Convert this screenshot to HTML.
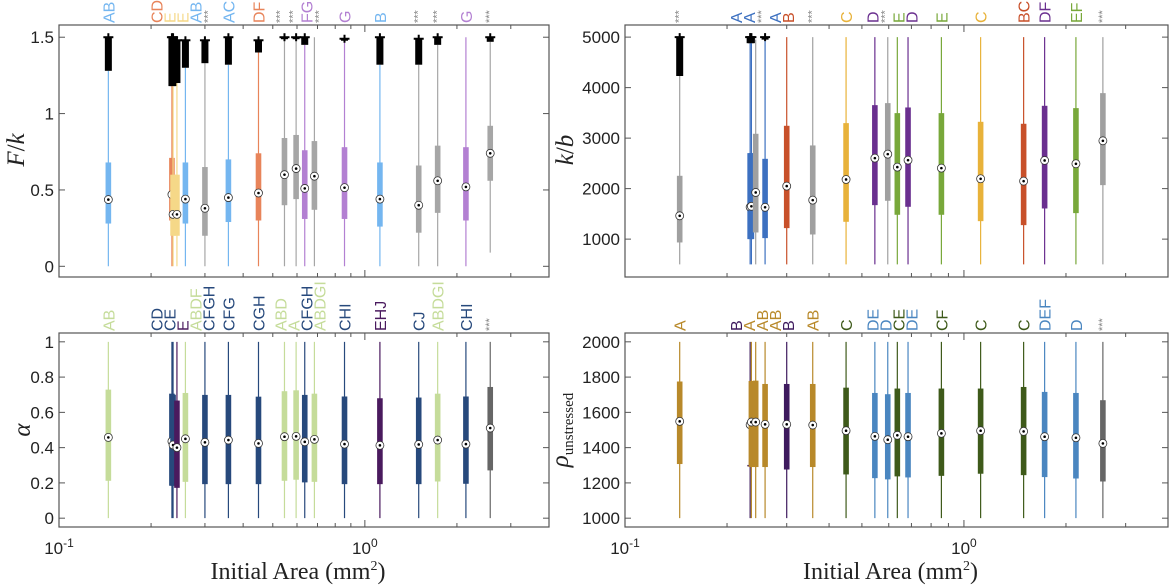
<!DOCTYPE html>
<html><head><meta charset="utf-8"><style>
html,body{margin:0;padding:0;background:#fff;}
svg{display:block;font-family:"Liberation Sans",sans-serif;}
.tick{font-size:17px;fill:#222;}
.serif{font-family:"Liberation Serif",serif;fill:#222;}
</style></head><body>
<svg id="chart" width="1176" height="586" viewBox="0 0 1176 586" xmlns="http://www.w3.org/2000/svg"></svg>
<script>
const areas=[0.145,0.234,0.236,0.243,0.259,0.300,0.358,0.449,0.546,0.596,0.636,0.684,0.858,1.12,1.50,1.73,2.14,2.57];

const fkQ1=[0.28,0.30,0.20,0.20,0.28,0.20,0.29,0.30,0.40,0.44,0.31,0.37,0.31,0.26,0.22,0.35,0.30,0.56];
const fkQ3=[0.68,0.71,0.60,0.60,0.68,0.65,0.70,0.74,0.84,0.86,0.76,0.82,0.78,0.68,0.66,0.79,0.78,0.92];
const fkMed=[0.437,0.47,0.34,0.34,0.44,0.38,0.45,0.48,0.60,0.64,0.51,0.59,0.515,0.44,0.40,0.56,0.52,0.74];
const fkLo=[0,0,0,0,0,0,0,0,0,0,0,0,0,0,0,0,0,0.09];
const fkHi=[1.28,1.18,1.18,1.2,1.3,1.33,1.32,1.4,1.5,1.5,1.45,1.5,1.49,1.32,1.32,1.45,1.5,1.47];
const fkOutLo=[1.28,1.18,1.18,1.2,1.3,1.33,1.32,1.4,1.5,1.5,1.45,null,1.49,1.32,1.32,1.45,null,1.47];
const fkOutHi=[1.5,1.5,1.5,1.48,1.48,1.48,1.5,1.48,1.5,1.5,1.5,null,1.49,1.5,1.49,1.5,null,1.5];
const fkLabels=["AB","CD","E","E","AB","***","AC","DF","***","***","FG","***","G","B","***","***","G","***"];
const fkColors=["#74b6f0","#e8845a","#f5d888","#f5d888","#74b6f0","#a6a6a6","#74b6f0","#e8845a","#a6a6a6","#a6a6a6","#b380d2","#a6a6a6","#b380d2","#74b6f0","#a6a6a6","#a6a6a6","#b380d2","#a6a6a6"];

const kbQ1=[934,1000,1000,1132,1020,1218,1092,1343,1673,1759,1482,1640,1482,1356,1277,1607,1515,2069];
const kbQ3=[2254,2703,2703,3086,2590,3244,2855,3297,3653,3693,3495,3607,3495,3323,3284,3640,3594,3891];
const kbMed=[1462,1634,1650,1924,1630,2050,1772,2181,2604,2683,2426,2564,2406,2195,2148,2558,2492,2947];
const kbLo=[500,500,500,500,500,500,500,500,500,500,500,500,500,500,500,500,500,500];
const kbHi=[4230,4880,4880,4950,4950,5000,5000,5000,5000,5000,5000,5000,5000,5000,5000,5000,5000,5000];
const kbOutLo=[4230,4880,4880,null,4950,null,null,null,null,null,null,null,null,null,null,null,null,null];
const kbOutHi=[5000,5000,5000,null,5000,null,null,null,null,null,null,null,null,null,null,null,null,null];
const kbLabels=["***","A","A","***","A","B","***","C","D","***","E","D","E","C","BC","DF","EF","***"];
const kbColors=["#a0a0a0","#3c70c0","#3c70c0","#a0a0a0","#3c70c0","#c8502a","#a0a0a0","#e8b23a","#6a2f8f","#a0a0a0","#78a83a","#6a2f8f","#78a83a","#e8b23a","#c8502a","#6a2f8f","#78a83a","#a0a0a0"];

const alQ1=[0.212,0.184,0.184,0.172,0.206,0.193,0.193,0.193,0.212,0.218,0.203,0.206,0.193,0.193,0.193,0.208,0.195,0.271];
const alQ3=[0.729,0.706,0.70,0.667,0.71,0.699,0.699,0.689,0.72,0.725,0.699,0.706,0.69,0.68,0.684,0.706,0.69,0.744];
const alMed=[0.458,0.436,0.415,0.40,0.45,0.43,0.443,0.424,0.462,0.464,0.433,0.447,0.42,0.413,0.418,0.443,0.42,0.511];
const alLo=[0,0,0,0,0,0,0,0,0,0,0,0,0,0,0,0,0,0];
const alHi=[1,1,1,1,1,1,1,1,1,1,1,1,1,1,1,1,1,1];
const alLabels=["AB","CD","CE","E","ABDF","CFGH","CFG","CGH","ABD","A","CFGH","ABDGI","CHI","EHJ","CJ","ABDGI","CHI","***"];
const alColors=["#c5dc9a","#27497c","#27497c","#4a1a5e","#c5dc9a","#27497c","#27497c","#27497c","#c5dc9a","#c5dc9a","#27497c","#c5dc9a","#27497c","#4a1a5e","#27497c","#c5dc9a","#27497c","#666666"];

const rhoQ1=[1307,1295,1290,1290,1290,1276,1290,1248,1227,1220,1237,1231,1240,1252,1244,1233,1225,1208];
const rhoQ3=[1775,1302,1778,1780,1761,1761,1761,1740,1710,1703,1735,1710,1735,1735,1744,1716,1710,1669];
const rhoMed=[1549,1530,1545,1545,1532,1532,1528,1496,1464,1445,1470,1462,1481,1496,1492,1462,1456,1424];
const rhoLo=[1000,1000,1000,1000,1000,1000,1000,1000,1000,1000,1000,1000,1000,1000,1000,1000,1000,1000];
const rhoHi=[2000,2000,2000,2000,2000,2000,2000,2000,2000,2000,2000,2000,2000,2000,2000,2000,2000,2000];
const rhoLabels=["A","B","A","AB","AB","B","AB","C","DE","D","CE","DE","CF","C","C","DEF","D","***"];
const rhoColors=["#b8892a","#3e1a5e","#b8892a","#b8892a","#b8892a","#3e1a5e","#b8892a","#3e5a1a","#4a86c0","#4a86c0","#3e5a1a","#4a86c0","#3e5a1a","#3e5a1a","#3e5a1a","#4a86c0","#4a86c0","#666666"];

const fkTicks=[0,0.5,1,1.5], fkTickLabels=["0","0.5","1","1.5"];
const kbTicks=[1000,2000,3000,4000,5000];
const alTicks=[0,0.2,0.4,0.6,0.8,1], alTickLabels=["0","0.2","0.4","0.6","0.8","1"];
const rhoTicks=[1000,1200,1400,1600,1800,2000];

const NS="http://www.w3.org/2000/svg";
const svg=document.getElementById('chart');
function mk(tag,attrs,parent){const e=document.createElementNS(NS,tag);for(const k in attrs)e.setAttribute(k,attrs[k]);(parent||svg).appendChild(e);return e;}

function panel(p){
  const g=mk('g',{});
  
  
  const xs=a=>p.L+(Math.log10(a)+1)/Math.log10(40)*(p.R-p.L);
  const ys=v=>p.T+(p.d1-v)/(p.d1-p.d0)*(p.B-p.T);
  const fr=mk('rect',{x:p.L,y:p.T,width:p.R-p.L,height:p.B-p.T,fill:'none',stroke:'#555','stroke-width':1.2},g);
  
  
  for(let dec=-1;dec<=0;dec++){for(let m=1;m<=9;m++){const a=m*Math.pow(10,dec);if(a>4)continue;const x=xs(a);const len=m===1?7:4;
    mk('line',{x1:x,x2:x,y1:p.B,y2:p.B-len,stroke:'#555'},g);mk('line',{x1:x,x2:x,y1:p.T,y2:p.T+len,stroke:'#555'},g);}}
  p.ticks.forEach((t,i)=>{const y=ys(t);
    mk('line',{x1:p.L,x2:p.L+6,y1:y,y2:y,stroke:'#555'},g);mk('line',{x1:p.R,x2:p.R-6,y1:y,y2:y,stroke:'#555'},g);
    const tl=mk('text',{x:p.L-5,y:y+6,'text-anchor':'end',class:'tick'},g);tl.textContent=p.tickLabels[i];
    
    
  });
  if(p.xlabels){
    [[0.1,"-1"],[1,"0"]].forEach(([a,e])=>{const t=mk('text',{x:xs(a),y:554,'text-anchor':'middle',class:'tick'},g);
      
      
      t.appendChild(document.createTextNode('10'));const s=mk('tspan',{dy:-7,'font-size':12},t);s.textContent=e;});
    const xt=mk('text',{x:(p.L+p.R)/2-6,y:579,'text-anchor':'middle',class:'serif','font-size':24},g);
    
    
    xt.appendChild(document.createTextNode('Initial Area (mm'));const s2=mk('tspan',{dy:-9,'font-size':14},xt);s2.textContent='2';
    const s3=mk('tspan',{dy:9},xt);s3.textContent=')';
  }
  areas.forEach((a,i)=>{const x=xs(a),c=p.colors[i];
    const bg=mk('g',{},g);
    
    
    mk('line',{x1:x,x2:x,y1:ys(p.lo[i]),y2:ys(p.hi[i]),stroke:c,'stroke-width':1.2},bg);
    mk('rect',{x:x-2.8,y:ys(p.q3[i]),width:5.6,height:Math.max(1.5,ys(p.q1[i])-ys(p.q3[i])),fill:c},bg);
    if(p.outLo&&p.outLo[i]!=null){const y1=ys(p.outHi[i]),y2=ys(p.outLo[i]);
      mk('rect',{x:x-3.5,y:y1,width:7,height:Math.max(2,y2-y1),fill:'#000'},bg);
      mk('line',{x1:x-5,x2:x+5,y1:y1,y2:y1,stroke:'#000','stroke-width':2},bg);
      mk('line',{x1:x,x2:x,y1:y1-4,y2:y1+4,stroke:'#000','stroke-width':2},bg);}
    const ym=ys(p.med[i]);
    mk('circle',{cx:x,cy:ym,r:4,fill:'#fff',stroke:'#333','stroke-width':0.8},bg);
    mk('circle',{cx:x,cy:ym,r:1.3,fill:'#000'},bg);
  });
  const lx=areas.map(a=>xs(a));
  for(let it=0;it<200;it++){for(let i=0;i<lx.length-1;i++){const d=lx[i+1]-lx[i];if(d<13){const s=(13-d)/2;lx[i]-=s;lx[i+1]+=s;}}}
  p.labels.forEach((l,i)=>{const star=l==='***';
    const t=mk('text',{x:0,y:0,transform:`translate(${lx[i]+(star?3:6)},${p.T-2}) rotate(-90)`,fill:star?'#888':p.colors[i],'font-size':star?11:16},g);
    t.textContent=l;
    
    
  });
}

panel({name:'fk-panel',L:59,R:549,T:25,B:277,d0:-0.07,d1:1.58,ticks:fkTicks,tickLabels:fkTickLabels,q1:fkQ1,q3:fkQ3,med:fkMed,lo:fkLo,hi:fkHi,outLo:fkOutLo,outHi:fkOutHi,labels:fkLabels,colors:fkColors});
panel({name:'kb-panel',L:625,R:1168,T:25,B:277,d0:250,d1:5240,ticks:kbTicks,tickLabels:kbTicks.map(String),q1:kbQ1,q3:kbQ3,med:kbMed,lo:kbLo,hi:kbHi,outLo:kbOutLo,outHi:kbOutHi,labels:kbLabels,colors:kbColors});
panel({name:'alpha-panel',L:59,R:549,T:333,B:527,d0:-0.05,d1:1.05,ticks:alTicks,tickLabels:alTickLabels,q1:alQ1,q3:alQ3,med:alMed,lo:alLo,hi:alHi,labels:alLabels,colors:alColors,xlabels:true});
panel({name:'rho-panel',L:625,R:1168,T:333,B:527,d0:950,d1:2050,ticks:rhoTicks,tickLabels:rhoTicks.map(String),q1:rhoQ1,q3:rhoQ3,med:rhoMed,lo:rhoLo,hi:rhoHi,labels:rhoLabels,colors:rhoColors,xlabels:true});

function ytitle(x,y,name,build){const t=mk('text',{transform:`translate(${x},${y}) rotate(-90)`,'text-anchor':'middle',class:'serif','font-size':25});
  
  
  build(t);}
ytitle(24,150,'y-axis-title-fk',t=>{const a=mk('tspan',{'font-style':'italic'},t);a.textContent='F';t.appendChild(document.createTextNode('/'));const b=mk('tspan',{'font-style':'italic'},t);b.textContent='k';});
ytitle(573,150,'y-axis-title-kb',t=>{const a=mk('tspan',{'font-style':'italic'},t);a.textContent='k';t.appendChild(document.createTextNode('/'));const b=mk('tspan',{'font-style':'italic'},t);b.textContent='b';});
ytitle(30,430,'y-axis-title-alpha',t=>{const a=mk('tspan',{'font-style':'italic'},t);a.textContent='α';});
ytitle(568,430,'y-axis-title-rho',t=>{const a=mk('tspan',{'font-style':'italic'},t);a.textContent='ρ';const b=mk('tspan',{'font-size':15,dy:5},t);b.textContent='unstressed';});
</script>
</body></html>
